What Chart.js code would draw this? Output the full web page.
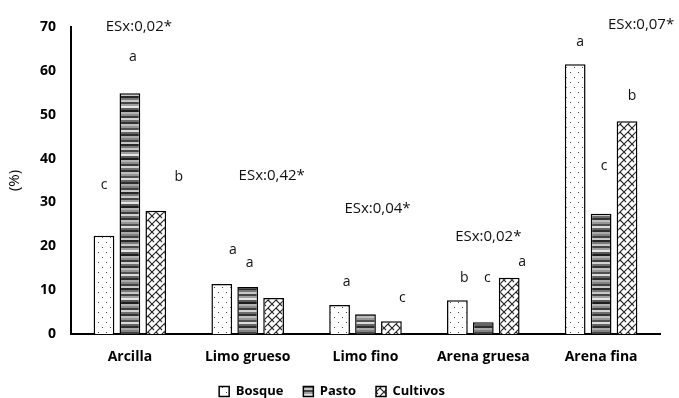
<!DOCTYPE html>
<html>
<head>
<meta charset="utf-8">
<script src="https://cdn.jsdelivr.net/npm/chart.js@4/dist/chart.umd.min.js"></script>
<style>
html,body{margin:0;padding:0;background:#fff;}
#c{display:block;}
</style>
</head>
<body>
<canvas id="c" width="679" height="398"></canvas>
<script>
// ---- data ----
const categories = ["Arcilla", "Limo grueso", "Limo fino", "Arena gruesa", "Arena fina"];
const seriesNames = ["Bosque", "Pasto", "Cultivos"];
const bosque   = [22.4, 11.4, 6.6, 7.7, 61.5];
const pasto    = [54.9, 10.7, 4.5, 2.7, 27.4];
const cultivos = [28.1, 8.2, 2.9, 12.8, 48.5];
const yTicks   = [0, 10, 20, 30, 40, 50, 60, 70];
// significance letters per series / category ("" = none)
const lettersBosque   = ["c", "a", "a", "b", "a"];
const lettersPasto    = ["a", "a", "",  "c", "c"];
const lettersCultivos = ["b", "",  "c", "a", "b"];
const esxLabels = ["ESx:0,02*", "ESx:0,42*", "ESx:0,04*", "ESx:0,02*", "ESx:0,07*"];

// ---- annotation placement (value units for y, px offset for x) ----
const letterPlace = [
  [[0,33.9],[11,19.2],[7,11.9],[7,12.8],[5,66.6]],
  [[3,63.1],[2,16.2],[0,0],[4,12.8],[3,38.4]],
  [[23,35.9],[0,0],[11,8.2],[13,16.5],[5,54.2]]
];
const esxPlace = [[9,70.0],[24,36.1],[12,28.6],[5,22.2],[40,70.5]];

// ---- patterns ----
function dotPattern(){
  const c=document.createElement('canvas'); c.width=8; c.height=10;
  const g=c.getContext('2d'); g.fillStyle='#fff'; g.fillRect(0,0,8,10);
  g.fillStyle='#444'; g.fillRect(2,2,1,1); g.fillRect(6,7,1,1);
  return g.createPattern(c,'repeat');
}
function stripePattern(){
  const grays=[40,120,200,70,160,230,90,30,180,140,60,210,110,50,190,150,80,220,100,45,170,130,65,200];
  const c=document.createElement('canvas'); c.width=4; c.height=grays.length*2;
  const g=c.getContext('2d');
  grays.forEach((v,i)=>{g.fillStyle=`rgb(${v},${v},${v})`; g.fillRect(0,i*2,4,2);});
  return g.createPattern(c,'repeat');
}
function hatchPattern(){
  const s=8;
  const c=document.createElement('canvas'); c.width=s; c.height=s;
  const g=c.getContext('2d'); g.fillStyle='#fff'; g.fillRect(0,0,s,s);
  g.strokeStyle='#222'; g.lineWidth=1.1;
  g.beginPath();
  g.moveTo(0,s); g.lineTo(s,0);
  g.moveTo(-1,1); g.lineTo(1,-1);
  g.moveTo(s-1,s+1); g.lineTo(s+1,s-1);
  g.moveTo(s/2,s/2); g.lineTo(s,s);
  g.moveTo(0,0); g.lineTo(s/4,s/4);
  g.stroke();
  return g.createPattern(c,'repeat');
}

const FONT = "'Open Sans', 'Noto Sans', sans-serif";

const annot = {
  id:'annot',
  afterDatasetsDraw(chart){
    const ctx=chart.ctx, ys=chart.scales.y, xs=chart.scales.x;
    const letters=[lettersBosque, lettersPasto, lettersCultivos];
    ctx.save();
    ctx.fillStyle='#111';
    ctx.textAlign='center'; ctx.textBaseline='middle';
    ctx.font="14px "+FONT;
    letters.forEach((arr,d)=>{
      const meta=chart.getDatasetMeta(d);
      arr.forEach((t,i)=>{
        if(!t) return;
        const [dx,yv]=letterPlace[d][i];
        ctx.fillText(t, meta.data[i].x+dx, ys.getPixelForValue(yv));
      });
    });
    ctx.font="15px "+FONT;
    esxLabels.forEach((t,i)=>{
      const [dx,yv]=esxPlace[i];
      ctx.fillText(t, xs.getPixelForValue(i)+dx, ys.getPixelForValue(yv));
    });
    ctx.restore();
  }
};

const patterns=[dotPattern(), stripePattern(), hatchPattern()];
const seriesData=[bosque, pasto, cultivos];

new Chart(document.getElementById('c'), {
  type:'bar',
  data:{
    labels:categories,
    datasets: seriesNames.map((n,k)=>({
      label:n, data:seriesData[k],
      backgroundColor:patterns[k], borderColor:'#000', borderWidth:1.5,
      categoryPercentage:0.66, barPercentage:0.8
    }))
  },
  options:{
    responsive:false, animation:false, devicePixelRatio:1,
    layout:{padding:{top:27,right:19,left:4,bottom:-10}},
    plugins:{
      legend:{position:'bottom',
        labels:{boxWidth:10, boxHeight:10, padding:20, color:'#000',
          font:{family:FONT, size:13, weight:'bold', lineHeight:1}}},
      tooltip:{enabled:false}
    },
    scales:{
      x:{
        grid:{display:false, drawTicks:false},
        border:{color:'#000', width:2},
        ticks:{color:'#000', padding:15, font:{family:FONT, size:14, weight:'bold'}},
        afterFit(s){ s.height=31; }
      },
      y:{
        min:0, max:70,
        afterBuildTicks(s){ s.ticks = yTicks.map(v=>({value:v})); },
        grid:{display:false, drawTicks:false},
        border:{color:'#000', width:2},
        ticks:{color:'#000', padding:15, font:{family:FONT, size:14, weight:'bold'}},
        title:{display:true, text:'(%)', color:'#000', font:{family:FONT, size:15}, padding:{top:2,bottom:4}},
        afterFit(s){ s.width=67; }
      }
    }
  },
  plugins:[annot]
});
</script>
</body>
</html>
